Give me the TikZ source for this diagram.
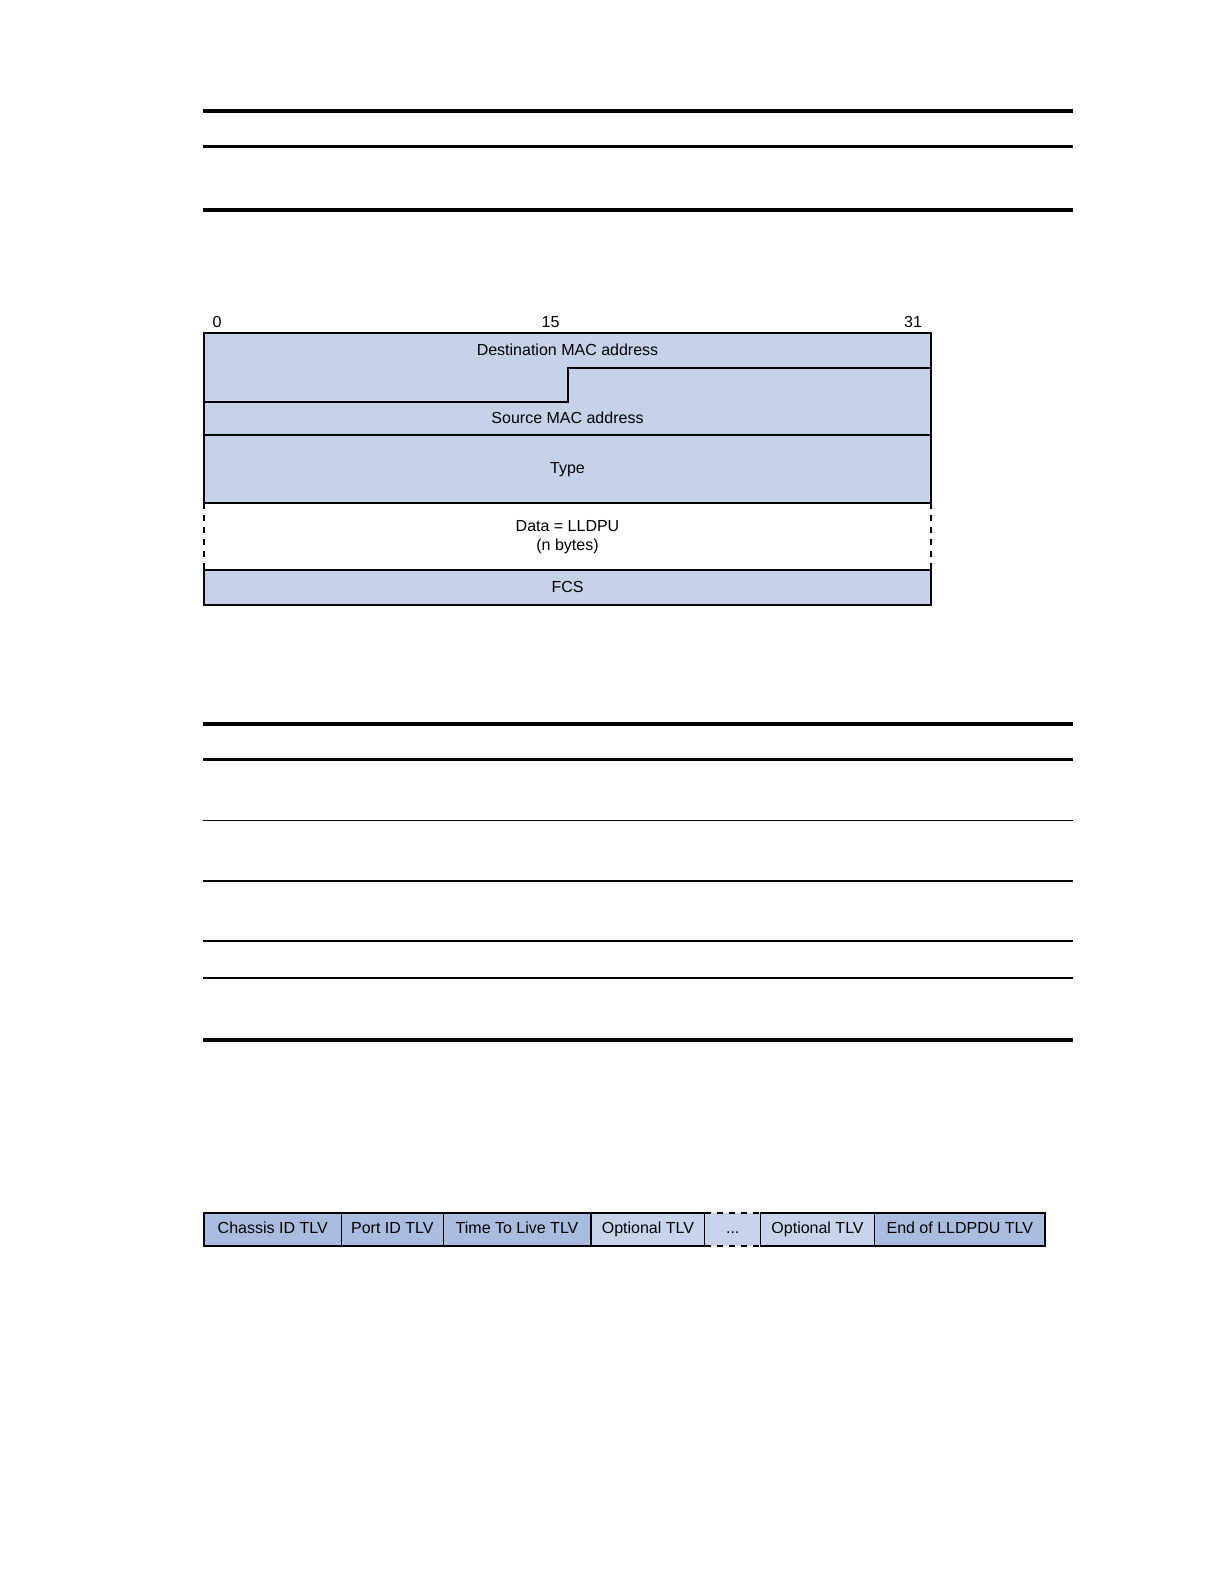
\documentclass[tikz,border=0pt]{standalone}
\usepackage{fontspec}
\setmainfont{Liberation Sans}
\usetikzlibrary{positioning}
\definecolor{framefill}{HTML}{C6D2EA}
\definecolor{tlvdark}{HTML}{AABCDF}
\definecolor{tlvlight}{HTML}{C8D4EC}

\begin{document}
\begin{tikzpicture}[
  x=0.5pt, y=-0.5pt, node distance=0pt,
  every node/.style={font=\fontsize{8}{9.6}\selectfont},
  fieldtext/.style={inner sep=0pt, align=center},
  tlv/.style={draw, line width=0.8pt, outer sep=0pt, inner sep=0pt,
    minimum height=16.5pt, text height=6pt, text depth=1.6pt},
  hrule/.style={line width=0.7pt},
  medrule/.style={line width=1.5pt},
  thickrule/.style={line width=2pt}
]
\useasboundingbox (0,0) rectangle (1224,1584);

% table rules, top
\draw[thickrule] (202.5,111) -- (1072.5,111);
\draw[medrule] (202.5,146.5) -- (1072.5,146.5);
\draw[thickrule] (202.5,210) -- (1072.5,210);

% Ethernet frame
\fill[framefill] (204,333) rectangle (931,503);
\fill[framefill] (204,570) rectangle (931,605);
\draw[line width=1pt] (204,503) -- (204,333) -- (931,333) -- (931,503);
\draw[line width=1pt] (204,402) -- (568,402) -- (568,368) -- (931,368);
\draw[line width=1pt] (204,435) -- (931,435);
\draw[line width=1pt] (204,503) -- (931,503);
\draw[line width=1pt, dashed] (204,503) -- (204,570);
\draw[line width=1pt, dashed] (931,503) -- (931,570);
\draw[line width=1pt] (204,570) rectangle (931,605);

\node[fieldtext] (bit0) at (217,322) {0};
\node[fieldtext] (bit15) at (550.5,322) {15};
\node[fieldtext] (bit31) at (913,322) {31};
\node[fieldtext] (dstmac) at (567.5,350) {Destination MAC address};
\node[fieldtext] (srcmac) at (567.5,418) {Source MAC address};
\node[fieldtext] (type) at (567.5,469.5) {Type};
\node[fieldtext] (data) at (567.5,537) {Data = LLDPU\\(n bytes)};
\node[fieldtext] (fcs) at (567.5,586.5) {FCS};

% table rules, middle
\draw[thickrule] (202.5,724) -- (1072.5,724);
\draw[medrule] (202.5,759) -- (1072.5,759);
\draw[hrule] (202.5,820.5) -- (1072.5,820.5);
\draw[hrule] (202.5,881) -- (1072.5,881);
\draw[hrule] (202.5,941) -- (1072.5,941);
\draw[hrule] (202.5,978) -- (1072.5,978);
\draw[line width=2.3pt] (202.5,1040) -- (1072.5,1040);

% LLDPDU
\node[tlv, fill=tlvdark, minimum width=68.7pt, anchor=west] (chassis) at (204,1229.5) {Chassis ID TLV};
\node[tlv, fill=tlvdark, minimum width=50.95pt, right=of chassis] (portid) {Port ID TLV};
\node[tlv, fill=tlvdark, minimum width=73.75pt, right=of portid] (ttl) {Time To Live TLV};
\node[tlv, fill=tlvlight, minimum width=57.1pt, right=of ttl] (opt1) {Optional TLV};
\node[tlv, draw=none, fill=tlvlight, minimum width=27.75pt, right=of opt1] (dots) {...};
\node[tlv, fill=tlvlight, minimum width=57.05pt, right=of dots] (opt2) {Optional TLV};
\node[tlv, fill=tlvdark, minimum width=85.2pt, right=of opt2] (endtlv) {End of LLDPDU TLV};
\draw[line width=0.8pt, dashed] (dots.north west) -- (dots.north east);
\draw[line width=0.8pt, dashed] (dots.south west) -- (dots.south east);
\end{tikzpicture}
\end{document}
